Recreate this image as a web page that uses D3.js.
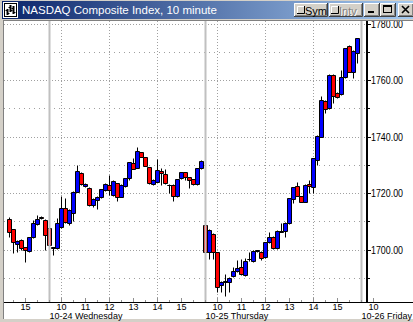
<!DOCTYPE html>
<html><head><meta charset="utf-8">
<script src="https://cdn.jsdelivr.net/npm/d3@7/dist/d3.min.js"></script>
<style>html,body{margin:0;padding:0;background:#D4D0C8;}svg{display:block;}</style>
</head><body>
<svg id="c" width="413" height="322"></svg>
<script>
// ---- data ----
const title = "NASDAQ Composite Index, 10 minute";
const sessions = [
  {day: "10-23", label: "",                from: "14:20", to: "15:50"},
  {day: "10-24", label: "10-24 Wednesday", from: "09:30", to: "15:50"},
  {day: "10-25", label: "10-25 Thursday",  from: "09:30", to: "15:50"},
  {day: "10-26", label: "10-26 Friday",    from: "09:30", to: "10:00"}
];
const opens = [
  1710.8,1707.2,1701.8,1703.4,1700.8,1699.5,1704.3,1709.0,1711.6,1710.4,
  1707.5,1700.9,1700.4,1707.9,1714.8,1709.3,1712.8,1720.5,1727.0,1722.6,
  1721.9,1715.8,1717.5,1718.5,1721.1,1722.8,1719.3,1723.4,1718.7,1722.5,
  1725.2,1730.5,1729.0,1734.4,1732.6,1729.1,1723.2,1724.0,1727.8,1726.6,
  1722.8,1722.8,1719.0,1725.2,1727.3,1725.6,1724.8,1723.2,1728.7,
  1708.7,1699.2,1705.5,1699.0,1687.4,1688.6,1688.6,1690.6,1692.4,1693.9,
  1691.0,1696.5,1695.9,1699.6,1699.2,1697.2,1702.5,1704.5,1700.4,1706.3,
  1706.5,1709.3,1717.8,1722.5,1718.9,1716.9,1723.2,1722.0,1731.7,1739.9,
  1752.6,1750.0,1761.8,1755.5,1755.0,1761.0,1772.0,1762.9,1769.7
];
const highs = [
  1711.4,1707.3,1703.4,1703.6,1701.0,1704.5,1710.4,1712.2,1711.9,1710.9,
  1708.0,1701.0,1711.0,1718.9,1718.1,1714.2,1720.8,1729.9,1727.3,1723.4,
  1722.2,1718.1,1718.9,1721.5,1723.4,1726.4,1724.5,1723.6,1723.1,1725.4,
  1731.1,1732.3,1736.2,1734.6,1732.8,1729.3,1724.8,1731.9,1728.7,1728.4,
  1723.1,1723.1,1725.1,1727.5,1727.4,1725.8,1725.1,1729.0,1731.7,
  1708.9,1707.2,1705.7,1699.1,1688.8,1691.3,1690.4,1693.9,1696.3,1696.5,
  1696.9,1699.2,1699.8,1699.8,1699.5,1702.8,1706.3,1704.8,1706.8,1709.5,
  1709.7,1718.3,1722.2,1723.8,1719.0,1723.1,1724.6,1732.5,1740.4,1754.3,
  1752.8,1762.0,1762.0,1755.8,1763.5,1771.4,1772.4,1770.6,1775.0
];
const lows = [
  1704.5,1698.9,1699.2,1699.8,1695.5,1699.2,1704.0,1708.7,1710.8,1699.8,
  1698.1,1698.1,1700.2,1707.5,1709.3,1708.7,1710.2,1720.2,1722.7,1722.2,
  1715.4,1715.2,1714.2,1718.1,1720.8,1719.3,1718.9,1717.3,1718.5,1722.2,
  1724.6,1728.4,1728.7,1732.6,1729.5,1723.2,1722.8,1723.8,1722.8,1723.2,
  1719.9,1717.2,1718.7,1725.0,1724.6,1721.7,1722.9,1722.9,1728.5,
  1696.5,1696.5,1696.5,1685.1,1685.1,1683.6,1685.1,1690.3,1692.0,1691.0,
  1690.6,1695.9,1695.6,1699.1,1696.3,1697.0,1702.3,1700.1,1700.1,1706.2,
  1704.5,1709.0,1716.4,1718.8,1716.7,1716.7,1719.9,1719.9,1729.8,1739.7,
  1748.2,1749.7,1752.0,1753.6,1754.8,1760.7,1762.7,1760.6,1765.9
];
const closes = [
  1706.3,1702.7,1703.0,1700.4,1699.7,1704.3,1709.5,1710.9,1711.0,1705.1,
  1701.6,1700.6,1709.5,1714.8,1709.6,1714.0,1720.5,1727.9,1723.1,1723.2,
  1715.6,1717.8,1718.7,1721.3,1723.1,1721.1,1724.2,1718.7,1722.8,1725.2,
  1730.9,1728.6,1734.9,1732.8,1729.7,1723.4,1724.6,1728.1,1727.0,1723.4,
  1722.7,1719.0,1724.8,1727.3,1725.8,1724.6,1723.2,1728.7,1731.4,
  1699.2,1706.9,1699.2,1686.8,1688.6,1688.7,1689.8,1692.4,1693.6,1691.3,
  1695.9,1696.6,1699.6,1699.7,1696.9,1702.5,1704.5,1700.4,1706.5,1706.5,
  1709.5,1718.1,1722.0,1719.0,1716.9,1722.8,1722.5,1732.3,1740.2,1752.9,
  1749.6,1761.8,1754.3,1753.9,1761.2,1771.2,1762.9,1770.4,1774.8
];
const majorTicks = [1700, 1720, 1740, 1760, 1780];
const minorTicks = [1690, 1710, 1730, 1750, 1770];
const hourLabels = [10, 11, 12, 13, 14, 15];
const gridHours = [10, 12, 14];

// ---- categories (10-minute bar times) ----
function toMin(s){ const p = s.split(":"); return +p[0]*60 + +p[1]; }
const cats = [];
sessions.forEach((s, si) => {
  for (let m = toMin(s.from); m <= toMin(s.to); m += 10) {
    cats.push({key: s.day + " " + m, day: s.day, si: si, hour: Math.floor(m/60), minute: m % 60,
               first: m === toMin(s.from)});
  }
});

const W = 413, H = 322;
const svg = d3.select("#c");
const P = {left: 4, right: 366, top: 21, bottom: 302};
const FONT = "Liberation Sans, Arial, sans-serif";

const x = d3.scalePoint().domain(cats.map(d => d.key)).range([9, 9 + 4*(cats.length-1)]);
const y = d3.scaleLinear().domain([1700, 1780]).range([249.5, 23.5]);
const px = k => Math.round(x(k)) + 0.5;
const py = v => Math.round(y(v)) + 0.5;

// window background
svg.append("rect").attr("width", W).attr("height", H).attr("fill", "#D4D0C8");
svg.append("rect").attr("x", 4).attr("y", 21).attr("width", W-4).attr("height", 298).attr("fill", "#fff");
svg.append("line").attr("x1", 3.5).attr("x2", 3.5).attr("y1", 20).attr("y2", 319).attr("stroke", "#808080");

// clip
svg.append("clipPath").attr("id", "pc").append("rect")
  .attr("x", P.left).attr("y", P.top).attr("width", P.right - P.left).attr("height", P.bottom - P.top);
const g = svg.append("g").attr("clip-path", "url(#pc)");

// horizontal grid
g.selectAll(".hmin").data(minorTicks).join("line")
  .attr("x1", P.left).attr("x2", P.right).attr("y1", py).attr("y2", py)
  .attr("stroke", "#A0A0A0").attr("stroke-dasharray", "1,4");
g.selectAll(".hmaj").data(majorTicks).join("line")
  .attr("x1", P.left).attr("x2", P.right).attr("y1", py).attr("y2", py)
  .attr("stroke", "#A0A0A0").attr("stroke-dasharray", "1,2");

// vertical grid: dotted at even hours, solid gray at session opens
const vDots = cats.filter(c => c.minute === 0 && gridHours.includes(c.hour));
g.selectAll(".vd").data(vDots).join("line")
  .attr("x1", d => px(d.key)).attr("x2", d => px(d.key)).attr("y1", P.top).attr("y2", P.bottom)
  .attr("stroke", "#A0A0A0").attr("stroke-dasharray", "1,2");
const dayStarts = cats.filter(c => c.first && c.si > 0);
svg.selectAll(".vs").data(dayStarts).join("line")
  .attr("x1", d => Math.round(x(d.key)) + 0.5).attr("x2", d => Math.round(x(d.key)) + 0.5)
  .attr("y1", P.top).attr("y2", P.bottom)
  .attr("stroke", "#C0C0C0").attr("stroke-width", 2);

// candles
const bars = opens.map((o, i) => ({key: cats[i].key, o: o, h: highs[i], l: lows[i], c: closes[i]}));
g.selectAll(".wick").data(bars).join("line")
  .attr("x1", d => px(d.key)).attr("x2", d => px(d.key))
  .attr("y1", d => py(d.h)).attr("y2", d => py(d.l))
  .attr("stroke", "#000").attr("stroke-width", 1);
g.selectAll(".body").data(bars).join("path")
  .attr("d", d => {
    const cx = Math.round(x(d.key));
    const x0 = cx - 2 + 0.5, x1 = cx + 2 + 0.5;
    const y0 = py(Math.max(d.o, d.c)), y1 = py(Math.min(d.o, d.c));
    return `M${x0},${y0}H${x1}V${y1}H${x0}Z`;
  })
  .attr("fill", d => d.c >= d.o ? "#0000FF" : "#FF0000")
  .attr("stroke", "#000").attr("stroke-width", 1);

// right axis
svg.append("line").attr("x1", 367).attr("x2", 367).attr("y1", P.top).attr("y2", P.bottom + 1)
  .attr("stroke", "#000").attr("stroke-width", 2);
svg.selectAll(".tmin").data(minorTicks.filter(v => y(v) < P.bottom)).join("line")
  .attr("x1", 368).attr("x2", 370).attr("y1", py).attr("y2", py).attr("stroke", "#000");
svg.selectAll(".tmaj").data(majorTicks).join("line")
  .attr("x1", 368).attr("x2", 371).attr("y1", py).attr("y2", py).attr("stroke", "#000");
svg.selectAll(".tl").data(majorTicks).join("text")
  .attr("x", 371).attr("y", d => Math.round(y(d)) + 4)
  .attr("font-family", FONT).attr("font-size", 10)
  .attr("textLength", 32).attr("lengthAdjust", "spacingAndGlyphs")
  .attr("fill", "#000").text(d => d3.format(".2f")(d));

// bottom axis
svg.append("line").attr("x1", P.left).attr("x2", W).attr("y1", 302.5).attr("y2", 302.5).attr("stroke", "#000");
const halfHours = cats.filter(c => c.minute === 0 || c.minute === 30);
svg.selectAll(".bt").data(halfHours).join("line")
  .attr("x1", d => px(d.key)).attr("x2", d => px(d.key))
  .attr("y1", d => d.minute === 0 ? 298 : 300).attr("y2", 302)
  .attr("stroke", "#909090");
const hourCats = cats.filter(c => c.minute === 0 && hourLabels.includes(c.hour));
svg.selectAll(".hl").data(hourCats).join("text")
  .attr("x", d => px(d.key)).attr("y", 310).attr("text-anchor", "middle")
  .attr("font-family", FONT).attr("font-size", 9)
  .attr("fill", "#000").text(d => d.hour);
svg.selectAll(".dl").data(dayStarts).join("text")
  .attr("x", d => Math.round(x(d.key)) + 0.5).attr("y", 318.5)
  .attr("font-family", FONT).attr("font-size", 9)
  .attr("fill", "#000").text(d => sessions[d.si].label);

// title bar
const defs = svg.append("defs");
const lg = defs.append("linearGradient").attr("id", "tg").attr("x1", 0).attr("x2", 1).attr("y1", 0).attr("y2", 0);
lg.append("stop").attr("offset", 0).attr("stop-color", "#0A246A");
lg.append("stop").attr("offset", 1).attr("stop-color", "#A6CAF0");
svg.append("rect").attr("x", 0).attr("y", 0).attr("width", W).attr("height", 21).attr("fill", "#D4D0C8");
svg.append("rect").attr("x", 2).attr("y", 1).attr("width", W-2).attr("height", 18).attr("fill", "url(#tg)");
svg.append("line").attr("x1", 3).attr("x2", W).attr("y1", 20.5).attr("y2", 20.5).attr("stroke", "#808080");

// icon
const ic = svg.append("g");
ic.append("rect").attr("x", 3).attr("y", 2).attr("width", 15).attr("height", 16).attr("fill", "#fff");
ic.append("rect").attr("x", 4.5).attr("y", 3.5).attr("width", 12).attr("height", 13).attr("fill", "#fff").attr("stroke", "#000");
[[7.5, 9, 15, 10, 13], [10.5, 5, 12, 7, 10], [13.5, 6, 14, 8, 12]].forEach(b => {
  ic.append("line").attr("x1", b[0]).attr("x2", b[0]).attr("y1", b[1]).attr("y2", b[2]).attr("stroke", "#000").attr("stroke-width", 2);
  ic.append("line").attr("x1", b[0]-2).attr("x2", b[0]).attr("y1", b[3]+0.5).attr("y2", b[3]+0.5).attr("stroke", "#000");
  ic.append("line").attr("x1", b[0]).attr("x2", b[0]+2).attr("y1", b[4]+0.5).attr("y2", b[4]+0.5).attr("stroke", "#000");
});
svg.append("text").attr("x", 22).attr("y", 14).attr("fill", "#fff")
  .attr("font-family", FONT).attr("font-size", 11.5).text(title);

function button(bx, by, bw, bh) {
  const b = svg.append("g");
  b.append("rect").attr("x", bx).attr("y", by).attr("width", bw).attr("height", bh).attr("fill", "#D4D0C8");
  b.append("path").attr("d", `M${bx+0.5},${by+bh-1}V${by+0.5}H${bx+bw-1}`).attr("stroke", "#fff").attr("fill", "none");
  b.append("path").attr("d", `M${bx},${by+bh-0.5}H${bx+bw-0.5}V${by}`).attr("stroke", "#404040").attr("fill", "none");
  b.append("path").attr("d", `M${bx+1},${by+bh-1.5}H${bx+bw-1.5}V${by+1}`).attr("stroke", "#808080").attr("fill", "none");
  return b;
}
function checkSq(sx, sy) {
  svg.append("rect").attr("x", sx).attr("y", sy).attr("width", 8).attr("height", 8).attr("fill", "#D4D0C8");
  svg.append("path").attr("d", `M${sx+0.5},${sy+8}V${sy+0.5}H${sx+8}`).attr("stroke", "#fff").attr("fill", "none");
  svg.append("path").attr("d", `M${sx},${sy+7.5}H${sx+7.5}V${sy}`).attr("stroke", "#000").attr("fill", "none");
}
button(294, 3, 34, 14); checkSq(297, 6);
svg.append("text").attr("x", 305).attr("y", 14.5).attr("font-family", FONT)
  .attr("font-size", 11).attr("fill", "#000").text("Sym");
button(329, 3, 34, 14); checkSq(331, 6);
svg.append("text").attr("x", 340).attr("y", 15.5).attr("font-family", FONT)
  .attr("font-size", 11).attr("fill", "#fff").text("Intv");
svg.append("text").attr("x", 339).attr("y", 14.5).attr("font-family", FONT)
  .attr("font-size", 11).attr("fill", "#808080").text("Intv");
button(364, 3, 16, 14);
svg.append("rect").attr("x", 368).attr("y", 11).attr("width", 6).attr("height", 2).attr("fill", "#000");
button(380, 3, 16, 14);
svg.append("rect").attr("x", 383.5).attr("y", 5.5).attr("width", 8).attr("height", 7).attr("fill", "none").attr("stroke", "#000");
svg.append("rect").attr("x", 383).attr("y", 5).attr("width", 9).attr("height", 2).attr("fill", "#000");
button(398, 3, 16, 14);
svg.append("path").attr("d", "M402,6L409,13M409,6L402,13").attr("stroke", "#000").attr("stroke-width", 1.6);
</script>
</body></html>
